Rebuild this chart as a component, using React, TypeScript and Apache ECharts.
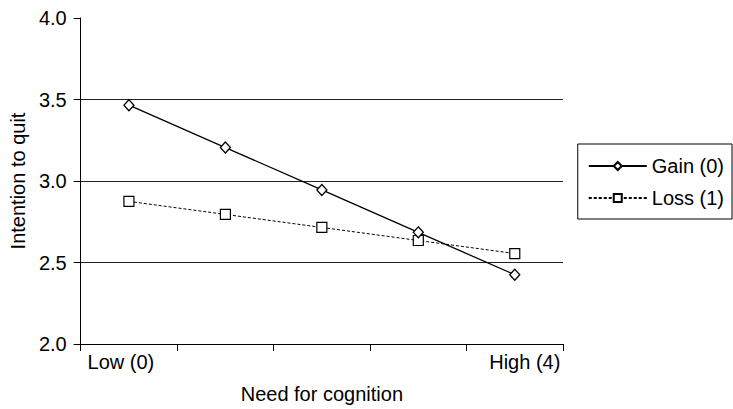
import React, { useEffect, useRef } from "react";
import * as echarts from "echarts";

const categories = ["0", "1", "2", "3", "4"];
const tickLabels = ["Low (0)", "", "", "", "High (4)"];
const gainValues = [3.465, 3.205, 2.945, 2.685, 2.425];
const lossValues = [2.875, 2.795, 2.715, 2.635, 2.555];
const seriesNames = ["Gain (0)", "Loss (1)"];
const xAxisTitle = "Need for cognition";
const yAxisTitle = "Intention to quit";

const FONT = "Liberation Sans, Arial, sans-serif";
const FS = 20;

export default function App() {
  const ref = useRef<HTMLDivElement>(null);
  useEffect(() => {
    if (!ref.current) return;
    const chart = echarts.init(ref.current, undefined, { renderer: "svg" });
    chart.setOption({
      animation: false,
      backgroundColor: "#fff",
      textStyle: { fontFamily: FONT, color: "#000" },
      grid: { left: 77, right: 170, top: 18, bottom: 64, containLabel: false },
      legend: {
        orient: "vertical",
        right: 1,
        top: 144,
        padding: [12, 8, 11, 10],
        itemGap: 12,
        itemWidth: 58,
        itemHeight: 10,
        borderColor: "#000",
        borderWidth: 1,
        backgroundColor: "#fff",
        textStyle: { fontFamily: FONT, fontSize: FS, color: "#000" },
        data: seriesNames,
      },
      xAxis: {
        type: "category",
        data: categories,
        boundaryGap: true,
        name: xAxisTitle,
        nameLocation: "middle",
        nameGap: 40,
        nameTextStyle: { fontFamily: FONT, fontSize: FS, color: "#000" },
        axisLine: { show: true, lineStyle: { color: "#000", width: 1 } },
        axisTick: { show: true, interval: 0, length: 7, lineStyle: { color: "#000" } },
        axisLabel: {
          interval: 0,
          margin: 8,
          color: "#000",
          fontFamily: FONT,
          fontSize: FS,
          formatter: (_v: string, i: number) => {
            const t = tickLabels[i];
            if (!t) return "";
            if (i === 0) return "{l|" + t + "}";
            if (i === tickLabels.length - 1) return "{r|" + t + "}";
            return t;
          },
          rich: {
            l: { fontFamily: FONT, fontSize: FS, color: "#000", padding: [0, 16, 0, 0] },
            r: { fontFamily: FONT, fontSize: FS, color: "#000", padding: [0, 0, 0, 20] },
          },
        },
        splitLine: { show: false },
      },
      yAxis: {
        type: "value",
        min: 2,
        max: 4,
        interval: 0.5,
        name: yAxisTitle,
        nameLocation: "middle",
        nameGap: 50,
        nameTextStyle: { fontFamily: FONT, fontSize: FS, color: "#000" },
        axisLine: { show: true, lineStyle: { color: "#000", width: 1 } },
        axisTick: { show: true, length: 7, lineStyle: { color: "#000" } },
        axisLabel: {
          margin: 14,
          color: "#000",
          fontFamily: FONT,
          fontSize: FS,
          formatter: (v: number) => v.toFixed(1),
        },
        splitLine: {
          show: true,
          showMinLine: false,
          showMaxLine: false,
          lineStyle: { color: "#222", width: 1 },
        },
      },
      series: [
        {
          name: seriesNames[0],
          type: "line",
          data: gainValues,
          symbol: "diamond",
          symbolSize: [10, 11],
          showAllSymbol: true,
          lineStyle: { color: "#000", width: 1.3, type: "solid" },
          itemStyle: { color: "#fff", borderColor: "#000", borderWidth: 1.3 },
          z: 3,
        },
        {
          name: seriesNames[1],
          type: "line",
          data: lossValues,
          symbol: "rect",
          symbolSize: 10,
          showAllSymbol: true,
          lineStyle: { color: "#000", width: 1, type: [3, 2] },
          itemStyle: { color: "#fff", borderColor: "#000", borderWidth: 1.2 },
          z: 2,
        },
      ],
    });
    return () => chart.dispose();
  }, []);
  return (
    <div
      ref={ref}
      style={{ position: "absolute", left: 0, top: 0, width: 733, height: 409 }}
    />
  );
}
